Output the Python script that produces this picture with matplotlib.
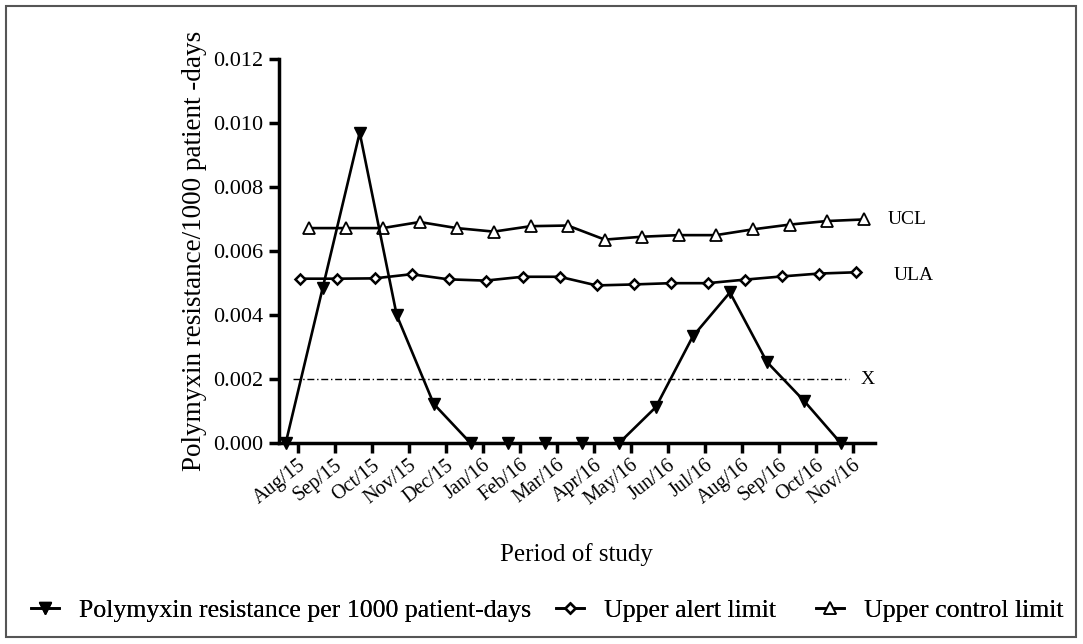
import matplotlib
matplotlib.use("Agg")
import matplotlib.pyplot as plt
from matplotlib.patches import Rectangle
import numpy as np

plt.rcParams["font.family"] = ["Liberation Serif", "DejaVu Serif"]

# ── Data ──────────────────────────────────────────────────────────────────────
months = ["Aug/15", "Sep/15", "Oct/15", "Nov/15", "Dec/15", "Jan/16", "Feb/16",
          "Mar/16", "Apr/16", "May/16", "Jun/16", "Jul/16", "Aug/16", "Sep/16",
          "Oct/16", "Nov/16"]
polymyxin = [0.0, 0.00485, 0.0097, 0.0040, 0.00123, 0.0, 0.0, 0.0, 0.0, 0.0,
             0.00113, 0.00334, 0.00471, 0.00254, 0.00133, 0.0]
ula = [0.00514, 0.00514, 0.00515, 0.00528, 0.00512, 0.00508, 0.0052, 0.0052,
       0.00493, 0.00496, 0.0050, 0.0050, 0.00511, 0.00521, 0.0053, 0.00534]
ucl = [0.00672, 0.00672, 0.00672, 0.00691, 0.00672, 0.00661, 0.00678, 0.0068,
       0.00636, 0.00645, 0.0065, 0.0065, 0.00668, 0.00683, 0.00694, 0.00699]
x_mean = 0.002

# ── Figure ────────────────────────────────────────────────────────────────────
W, H = 1083, 644
fig = plt.figure(figsize=(W / 100, H / 100), dpi=100, facecolor="white")
ax = fig.add_axes([279 / W, 1 - 443.3 / H, (875 - 279) / W, (443.3 - 59) / H])

x = np.arange(len(months))
# grouped offsets like the original (GraphPad style)
l1, = ax.plot(x - 0.32, polymyxin, color="black", lw=1.9, marker="v", ms=8,
              mfc="black", mec="black", clip_on=False, zorder=5)
l2, = ax.plot(x + 0.08, ula, color="black", lw=1.9, marker="D", ms=5.5,
              mfc="white", mec="black", mew=1.8, clip_on=False, zorder=4)
l3, = ax.plot(x + 0.30, ucl, color="black", lw=1.9, marker="^", ms=9,
              mfc="white", mec="black", mew=1.3, clip_on=False, zorder=4)
ax.plot([-0.13, 14.9], [x_mean, x_mean], color="black", lw=1.0,
        ls=(0, (5, 2, 1, 2)), zorder=3)

ax.text(15.93, ucl[-1], "UCL", ha="left", va="center", fontsize=14)
ax.text(16.1, ula[-1] - 0.0001, "ULA", ha="left", va="center", fontsize=14)
ax.text(15.2, x_mean, "X", ha="left", va="center", fontsize=14)

ax.set_xlim(-0.5, 15.6)
ax.set_ylim(0, 0.012)
yt = np.arange(0, 0.0121, 0.002)
ax.set_yticks(yt)
ax.set_yticklabels([f"{v:.3f}" for v in yt], fontsize=16)
ax.set_xticks(x)
ax.set_xticklabels(months, rotation=38, ha="right", rotation_mode="anchor",
                   fontsize=14.5)
for s in ["top", "right"]:
    ax.spines[s].set_visible(False)
for s in ["left", "bottom"]:
    ax.spines[s].set_linewidth(2.5)
ax.tick_params(axis="both", width=2.5, length=7, direction="out", pad=4)
ax.tick_params(axis="x", pad=2)

ax.set_ylabel("Polymyxin resistance/1000 patient -days", fontsize=19.5,
              labelpad=5)
fig.text(576 / W, 1 - 555 / H, "Period of study", ha="center", va="center",
         fontsize=18)

# three separate legend entries, positioned like the original
leg_y = 1 - 610 / H
for h, lab, x0 in [(l1, "Polymyxin resistance per 1000 patient-days", 31),
                   (l2, "Upper alert limit", 556),
                   (l3, "Upper control limit", 816)]:
    leg = fig.legend([h], [lab], loc="center left",
                     bbox_to_anchor=(x0 / W, leg_y), frameon=False,
                     fontsize=18.6, handlelength=1.1, handletextpad=0.75,
                     borderpad=0, borderaxespad=0)
    fig.add_artist(leg)

fig.patches.append(Rectangle((6 / W, 7 / H), 1070 / W, 631 / H,
                             transform=fig.transFigure, fill=False,
                             edgecolor="#555555", lw=1.5))

fig.savefig("out.png", dpi=100, facecolor="white")
